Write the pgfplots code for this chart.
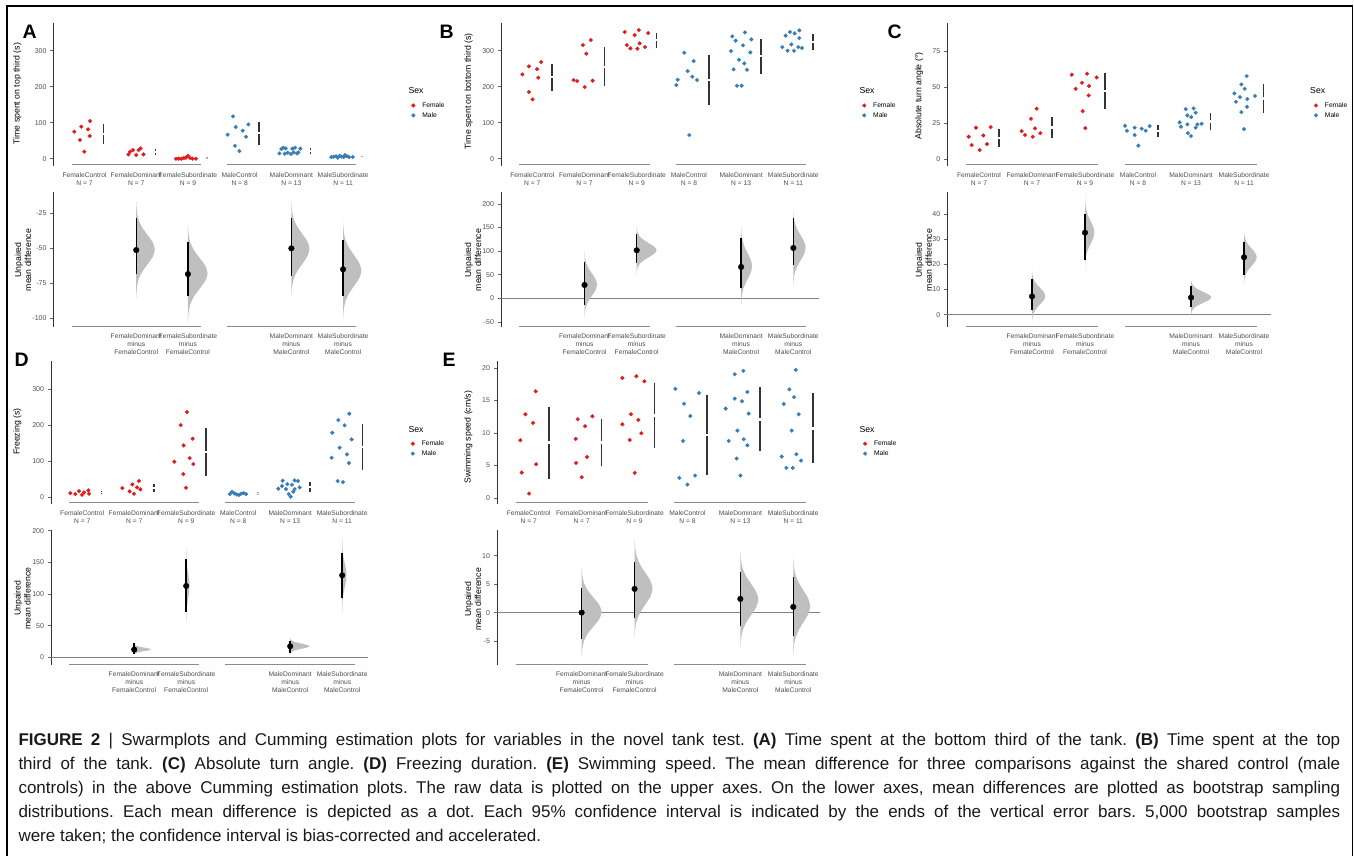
\documentclass[border=0pt]{standalone}
\usepackage{pgfplots}
\pgfplotsset{compat=1.18}
\usepackage{pgfplotstable}
\usepackage{fontspec}
\setmainfont{Liberation Sans}
\frenchspacing

\definecolor{fem}{HTML}{E41A1C}
\definecolor{mal}{HTML}{377EB8}
\definecolor{txtgray}{HTML}{4D4D4D}

\newcommand\tickfont{\fontsize{7}{8}\selectfont}
\newcommand\catfont{\fontsize{6.7}{8}\selectfont}
\newcommand\titlefont{\fontsize{8.7}{10}\selectfont}
\newcommand\letterfont{\fontsize{19.5}{20}\selectfont\bfseries}
\newcommand\capfont{\fontsize{17}{20}\selectfont}

% shape of a bootstrap distribution (t in sd units, w relative half-width)
\pgfplotstableread{
t w
-3.3 0
-3 0.011
-2.5 0.044
-2 0.135
-1.5 0.325
-1 0.607
-0.5 0.882
0 1
0.5 0.882
1 0.607
1.5 0.325
2 0.135
2.5 0.044
3 0.011
3.3 0
}\vtab

\pgfplotsset{
  base/.style={
    scale only axis, clip=false,
    xmin=-0.6, xmax=5.5,
    axis lines*=left,
    x axis line style={draw=none},
    y axis line style={black!80, line width=0.9pt},
    tick align=outside, major tick length=3.5pt,
    xtick style={draw=none},
    ytick style={black!60, line width=0.6pt},
    xticklabel style={font=\catfont, text=txtgray, align=center, anchor=north},
    yticklabel style={font=\tickfont, text=txtgray},
    unbounded coords=jump,
  },
  uppax/.style={base, height=142.4pt, xtick={0,...,5},
    xticklabels={{FemaleControl\\N = 7},{FemaleDominant\\N = 7},{FemaleSubordinate\\N = 9},{MaleControl\\N = 8},{MaleDominant\\N = 13},{MaleSubordinate\\N = 11}},
    legend cell align=left,
    legend style={draw=none, fill=none, at={(1.134,0.388)}, anchor=west,
      font=\catfont, inner sep=0pt, row sep=2.5pt,
      nodes={inner sep=0.5pt},
      /tikz/every odd column/.append style={column sep=6.5pt}},
    legend image code/.code={\draw[##1] plot coordinates {(0pt,0pt)};},
  },
  lowax/.style={base, height=134.4pt, xtick={1,2,4,5},
    xticklabels={{FemaleDominant\\minus\\FemaleControl},{FemaleSubordinate\\minus\\FemaleControl},{MaleDominant\\minus\\MaleControl},{MaleSubordinate\\minus\\MaleControl}},
  },
  fswarm/.style={only marks, mark=*, mark size=1.95pt, color=fem, mark options={draw=fem, fill=fem, line width=0.2pt}},
  mswarm/.style={only marks, mark=*, mark size=1.95pt, color=mal, mark options={draw=mal, fill=mal, line width=0.2pt}},
  gapbar/.style={black!80, line width=1.6pt, mark=none, forget plot},
  faintbar/.style={black!35, line width=1.6pt, mark=none, forget plot},
  meandot/.style={only marks, mark=*, mark size=2.8pt, black, forget plot,
    error bars/.cd, y dir=both, y explicit, error mark=none,
    error bar style={line width=1.4pt, black}},
}
\tikzset{
  brk/.style={black!45, line width=1pt},
  zeroline/.style={black!50, line width=0.9pt},
}

\newcommand\violin[4]{\addplot[fill=black!25, draw=none, forget plot, smooth]
  table[x expr={#1+#4*\thisrow{w}}, y expr={#2+#3*\thisrow{t}}] {\vtab};}
\newcommand\brk[1]{%
  \draw[brk] ({axis cs:-0.25,0}|-{rel axis cs:0,#1}) -- ({axis cs:2.25,0}|-{rel axis cs:0,#1});
  \draw[brk] ({axis cs:2.75,0}|-{rel axis cs:0,#1}) -- ({axis cs:5.25,0}|-{rel axis cs:0,#1});}
\newcommand\zero{\draw[zeroline] ({rel axis cs:0,0}|-{axis cs:0,0}) -- ({rel axis cs:1,0}|-{axis cs:0,0});}

\begin{document}
\begin{tikzpicture}[x=1pt, y=1pt]
\path[use as bounding box] (0,0) rectangle (1354,856);
\draw[line width=1.3pt] (7,0) -- (7,850) -- (1352.5,850) -- (1352.5,0);

% ---------------- A ----------------
\begin{axis}[uppax, at={(53.5pt,832.7pt)}, anchor=north west, width=315.4pt,
  ymin=-19.4, ymax=376.2, ytick={0,100,200,300}, yticklabels={0,100,200,300}]
\addplot[fswarm] table[row sep=\\] {x y\\
-0.197 75\\ -0.087 51.9\\ -0.062 88.9\\ -0.004 19.4\\ 0.068 81.5\\ 0.100 63\\ 0.106 104.6\\
0.85 12\\ 0.88 19.4\\ 0.935 24\\ 1.0 10.2\\ 1.045 24\\ 1.085 28.7\\ 1.14 12\\
1.77 0\\ 1.82 0\\ 1.87 0\\ 1.92 1.9\\ 1.96 2.8\\ 2.0 8.3\\ 2.04 1.9\\ 2.09 0\\ 2.155 0\\};
\addlegendentry{Female}
\addplot[mswarm] table[row sep=\\] {x y\\
2.872 117.6\\ 2.924 88\\ 2.769 66.7\\ 3.059 77.8\\ 3.169 95.4\\ 3.124 61\\ 2.911 36\\ 2.995 21.3\\
3.769 14.8\\ 3.807 26.9\\ 3.839 30.6\\ 3.872 13.9\\ 3.891 28.7\\ 3.93 16.7\\ 3.994 13\\ 4.02 27.8\\ 4.046 17.6\\ 4.072 30.6\\ 4.11 14.8\\ 4.136 17.6\\ 4.175 27.8\\
4.774 4.6\\ 4.819 5.6\\ 4.865 6.5\\ 4.897 2.8\\ 4.936 8.3\\ 4.974 5.6\\ 5.013 4.6\\ 5.039 10.2\\ 5.077 6.5\\ 5.116 4.6\\ 5.187 4.6\\};
\addlegendentry{Male}
\addplot[gapbar] coordinates {(0.37,40.7)(0.37,66.2)(0.37,nan)(0.37,72.2)(0.37,97.7)(0.37,nan)
 (1.37,9.6)(1.37,15.6)(1.37,nan)(1.37,21.6)(1.37,27.6)(1.37,nan)
 (3.37,39)(3.37,67.5)(3.37,nan)(3.37,73.5)(3.37,102)(3.37,nan)
 (4.37,13.2)(4.37,18.7)(4.37,nan)(4.37,24.7)(4.37,30.2)};
\addplot[faintbar] coordinates {(2.37,-1)(2.37,4.5)(2.37,nan)(5.37,3.5)(5.37,8)};
\brk{0.01}
\end{axis}

\begin{axis}[lowax, at={(53.5pt,663.7pt)}, anchor=north west, width=315.4pt,
  ymin=-106.2, ymax=-9.95, ytick={-100,-75,-50,-25}, yticklabels={-100,-75,-50,-25}]
\violin{1}{-51}{10.5}{0.36}
\violin{2}{-68}{10.8}{0.38}
\violin{4}{-50.5}{10.7}{0.35}
\violin{5}{-66}{10.9}{0.355}
\addplot[meandot] table[row sep=\\, y error plus expr=\thisrow{hi}-\thisrow{y}, y error minus expr=\thisrow{y}-\thisrow{lo}] {x y lo hi\\
1 -51.3 -68.2 -28.1\\ 2 -68.5 -84.5 -45.3\\ 4 -50.1 -69.9 -28.6\\ 5 -65.1 -84.5 -44.1\\};
\brk{0.003}
\end{axis}

% ---------------- B ----------------
\begin{axis}[uppax, at={(501pt,832.7pt)}, anchor=north west, width=318.4pt,
  ymin=-19.4, ymax=376.2, ytick={0,100,200,300}, yticklabels={0,100,200,300}]
\addplot[fswarm] table[row sep=\\] {x y\\
-0.19 234.3\\ -0.065 256.5\\ 0.09 249\\ 0.17 268.5\\ 0.115 225\\ -0.065 185.2\\ 0.005 164.8\\
0.79 218.5\\ 0.86 215.7\\ 0.97 315.7\\ 1.035 291.7\\ 1.12 329.6\\ 1.003 199.1\\ 1.155 216.7\\
1.77 351.9\\ 1.81 315.7\\ 1.88 306.5\\ 1.96 343.5\\ 2.013 305.6\\ 2.04 357.4\\ 2.057 320.4\\ 2.16 310.2\\ 2.22 349\\};
\addlegendentry{Female}
\addplot[mswarm] table[row sep=\\] {x y\\
2.91 294.4\\ 3.09 271.3\\ 2.975 243.5\\ 3.065 227.8\\ 2.785 219.4\\ 3.155 218.5\\ 2.76 204.6\\ 3.008 65.7\\
3.83 339.8\\ 4.074 350.9\\ 3.895 327.8\\ 4.195 331.5\\ 4.036 314.8\\ 3.806 299.1\\ 4.176 295.4\\ 3.959 275\\ 4.061 264.8\\ 3.857 248.1\\ 4.112 247.2\\ 3.921 202.8\\ 4.01 202.8\\
4.79 310.2\\ 4.853 341.7\\ 4.891 300\\ 4.936 351.9\\ 4.962 317.6\\ 5.026 348.1\\ 5.013 300\\ 5.096 310.2\\ 5.115 356.5\\ 5.115 335.2\\ 5.166 307.4\\};
\addlegendentry{Male}
\addplot[gapbar] coordinates {(0.38,188.2)(0.38,223.2)(0.38,nan)(0.38,229.2)(0.38,264.2)(0.38,nan)
 (1.38,201.3)(1.38,252.3)(1.38,nan)(1.38,258.3)(1.38,309.3)(1.38,nan)
 (2.38,308.4)(2.38,325.9)(2.38,nan)(2.38,331.9)(2.38,349.4)(2.38,nan)
 (3.38,149.2)(3.38,215.2)(3.38,nan)(3.38,221.2)(3.38,287.2)(3.38,nan)
 (4.38,236.6)(4.38,281.6)(4.38,nan)(4.38,287.6)(4.38,332.6)(4.38,nan)
 (5.38,303.3)(5.38,322.3)(5.38,nan)(5.38,328.3)(5.38,347.3)};
\brk{0.01}
\end{axis}

\begin{axis}[lowax, at={(501pt,663.7pt)}, anchor=north west, width=318.4pt,
  ymin=-60.2, ymax=224.6, ytick={-50,0,50,100,150,200}, yticklabels={-50,0,50,100,150,200}]
\zero
\violin{1}{29}{23}{0.24}
\violin{2}{102}{15}{0.38}
\violin{4}{68}{27}{0.21}
\violin{5}{107}{26}{0.236}
\addplot[meandot] table[row sep=\\, y error plus expr=\thisrow{hi}-\thisrow{y}, y error minus expr=\thisrow{y}-\thisrow{lo}] {x y lo hi\\
1 28.2 -14.1 76.3\\ 2 101.7 75.6 135.6\\ 4 66.4 22.6 128.5\\ 5 106.6 71.3 170.2\\};
\brk{0.003}
\end{axis}

% ---------------- C ----------------
\begin{axis}[uppax, at={(947.2pt,832.7pt)}, anchor=north west, width=323.3pt,
  ymin=-4.6, ymax=94.3, ytick={0,25,50,75}, yticklabels={0,25,50,75}]
\addplot[fswarm] table[row sep=\\] {x y\\
-0.195 15.5\\ -0.138 9.7\\ -0.057 21.8\\ 0.013 6.25\\ 0.082 16.4\\ 0.151 10.4\\ 0.22 22.2\\
0.805 19.4\\ 0.868 16.7\\ 0.981 28\\ 1.013 15.5\\ 1.057 21.3\\ 1.088 35\\ 1.157 18\\
1.75 58.6\\ 1.824 48.8\\ 1.943 53\\ 2.038 59.3\\ 2.075 50.7\\ 2.22 56.7\\ 2.069 44.2\\ 1.956 33.3\\ 2.006 21.5\\};
\addlegendentry{Female}
\addplot[mswarm] table[row sep=\\] {x y\\
2.755 23.1\\ 2.792 19.7\\ 2.937 21.8\\ 2.937 16.7\\ 3.006 9.3\\ 3.069 21.1\\ 3.145 19.7\\ 3.22 22.9\\
3.786 25.5\\ 3.811 22.5\\ 3.9 34.7\\ 3.931 30.3\\ 3.931 24.1\\ 3.94 18\\ 4.006 29.2\\ 4.0 16\\ 4.05 35.2\\ 4.088 32.2\\ 4.088 21.8\\ 4.12 24.1\\ 4.2 24.5\\
4.818 45.6\\ 4.849 39.8\\ 4.925 43\\ 4.95 51.9\\ 5.013 48.8\\ 5.05 57.6\\ 5.063 41.7\\ 5.057 36.3\\ 4.95 32.6\\ 5.0 20.8\\ 5.208 43.8\\};
\addlegendentry{Male}
\addplot[gapbar] coordinates {(0.375,8.5)(0.375,13.8)(0.375,nan)(0.375,15.4)(0.375,20.7)(0.375,nan)
 (1.38,14.8)(1.38,21.2)(1.38,nan)(1.38,22.8)(1.38,29.2)(1.38,nan)
 (2.375,34.6)(2.375,46.5)(2.375,nan)(2.375,48.1)(2.375,60)(2.375,nan)
 (3.375,15)(3.375,18.5)(3.375,nan)(3.375,20.1)(3.375,23.6)(3.375,nan)
 (4.37,20.1)(4.37,25.2)(4.37,nan)(4.37,26.8)(4.37,31.9)(4.37,nan)
 (5.365,32.1)(5.365,41.2)(5.365,nan)(5.365,42.8)(5.365,51.9)};
\brk{0.01}
\end{axis}

\begin{axis}[lowax, at={(947.2pt,663.7pt)}, anchor=north west, width=323.3pt,
  ymin=-4.8, ymax=48.8, ytick={0,10,20,30,40}, yticklabels={0,10,20,30,40}]
\zero
\violin{1}{7.4}{3.3}{0.25}
\violin{2}{32.8}{4.5}{0.176}
\violin{4}{6.9}{2.2}{0.38}
\violin{5}{22.9}{3.4}{0.24}
\addplot[meandot] table[row sep=\\, y error plus expr=\thisrow{hi}-\thisrow{y}, y error minus expr=\thisrow{y}-\thisrow{lo}] {x y lo hi\\
1 7.3 1.7 14.2\\ 2 32.7 21.9 40.2\\ 4 6.8 3.1 11.6\\ 5 22.9 15.8 28.9\\};
\brk{0.003}
\end{axis}

% ---------------- D ----------------
\begin{axis}[uppax, at={(51pt,494.5pt)}, anchor=north west, width=317.2pt,
  ymin=-18, ymax=377.5, ytick={0,100,200,300}, yticklabels={0,100,200,300}]
\addplot[fswarm] table[row sep=\\] {x y\\
-0.228 12\\ -0.132 9.3\\ -0.062 17.6\\ -0.004 7.4\\ 0.035 13.9\\ 0.118 19.4\\ 0.131 10.2\\
0.772 25.9\\ 0.913 16.7\\ 0.964 36.1\\ 0.996 10.2\\ 1.054 27.8\\ 1.092 45.4\\ 1.118 22.2\\
1.772 99.1\\ 1.894 200.9\\ 1.945 64.8\\ 1.951 144.4\\ 1.996 26.9\\ 2.015 237\\ 2.067 109.3\\ 2.124 163\\ 2.137 92.6\\};
\addlegendentry{Female}
\addplot[mswarm] table[row sep=\\] {x y\\
2.84 9.3\\ 2.88 15.7\\ 2.925 11.1\\ 2.97 8.3\\ 3.01 6.5\\ 3.055 10.2\\ 3.1 12\\ 3.15 9.3\\
3.772 24.1\\ 3.842 31.5\\ 3.855 46.3\\ 3.919 23.1\\ 3.945 37\\ 3.971 9.3\\ 4.009 1.9\\ 4.035 35.2\\ 4.06 15.7\\ 4.086 47.2\\ 4.086 23.1\\ 4.15 45.4\\ 4.182 27.8\\
4.797 110.2\\ 4.81 179.6\\ 4.913 45.4\\ 4.926 214.8\\ 4.951 138\\ 5.015 42.6\\ 5.047 200\\ 5.092 119.4\\ 5.131 95.4\\ 5.137 232.4\\ 5.182 161.1\\};
\addlegendentry{Male}
\addplot[gapbar] coordinates {(0.37,8.3)(0.37,11.3)(0.37,nan)(0.37,14.3)(0.37,17.3)(0.37,nan)
 (1.38,14.7)(1.38,23.3)(1.38,nan)(1.38,29.3)(1.38,37.9)(1.38,nan)
 (2.38,59.7)(2.38,123.4)(2.38,nan)(2.38,129.4)(2.38,193.1)(2.38,nan)
 (4.38,14.9)(4.38,25.3)(4.38,nan)(4.38,31.3)(4.38,41.7)(4.38,nan)
 (5.39,76.4)(5.39,136.9)(5.39,nan)(5.39,142.9)(5.39,203.4)};
\addplot[faintbar] coordinates {(3.38,7.2)(3.38,9.1)(3.38,nan)(3.38,12.1)(3.38,14)};
\brk{0.01}
\end{axis}

\begin{axis}[lowax, at={(51pt,326pt)}, anchor=north west, width=317.2pt, height=135pt,
  ymin=-12.2, ymax=201, ytick={0,50,100,150,200}, yticklabels={0,50,100,150,200}]
\zero
\violin{1}{12.5}{2.7}{0.32}
\violin{2}{113}{19}{0.064}
\violin{4}{17.5}{4}{0.37}
\violin{5}{129.5}{18.7}{0.083}
\addplot[meandot] table[row sep=\\, y error plus expr=\thisrow{hi}-\thisrow{y}, y error minus expr=\thisrow{y}-\thisrow{lo}] {x y lo hi\\
1 12.1 4.7 22\\ 2 112.6 72.1 155.3\\ 4 17.4 6.3 25.8\\ 5 129.5 94.2 164.7\\};
\brk{0}
\end{axis}

% ---------------- E ----------------
\begin{axis}[uppax, at={(497pt,494.5pt)}, anchor=north west, width=322.7pt,
  ymin=-0.92, ymax=20.99, ytick={0,5,10,15,20}, yticklabels={0,5,10,15,20}]
\addplot[fswarm] table[row sep=\\] {x y\\
-0.158 8.87\\ -0.063 12.87\\ 0.132 16.4\\ 0.082 11.54\\ -0.132 3.9\\ 0.139 5.18\\ 0.006 0.67\\
0.926 12.1\\ 1.064 11.03\\ 1.203 12.56\\ 0.888 9.08\\ 1.102 6.3\\ 0.894 5.38\\ 1.001 3.18\\
1.77 18.46\\ 2.035 18.72\\ 2.186 17.95\\ 1.934 12.87\\ 2.072 12\\ 1.77 11.33\\ 2.129 9.95\\ 1.909 8.92\\ 2.003 3.85\\};
\addlegendentry{Female}
\addplot[mswarm] table[row sep=\\] {x y\\
2.772 16.77\\ 3.219 16.15\\ 2.936 14.5\\ 3.055 12.6\\ 2.917 8.77\\ 3.144 3.44\\ 2.848 3.08\\ 2.999 2.05\\
3.894 19.03\\ 4.057 19.54\\ 3.723 13.74\\ 3.894 15.28\\ 4.032 14.87\\ 4.133 16.3\\ 4.158 12.97\\ 3.944 10.36\\ 3.78 8.77\\ 4.064 9.03\\ 4.133 8.1\\ 3.931 6.05\\ 4.001 3.44\\
5.047 19.7\\ 4.927 16.7\\ 5.015 15.5\\ 4.82 14.46\\ 5.103 12.87\\ 4.971 10.36\\ 5.059 6.72\\ 4.782 6.36\\ 5.147 5.74\\ 4.87 4.62\\ 4.99 4.62\\};
\addlegendentry{Male}
\addplot[gapbar] coordinates {(0.378,2.94)(0.378,8.29)(0.378,nan)(0.378,8.69)(0.378,14.04)(0.378,nan)
 (1.373,4.86)(1.373,8.32)(1.373,nan)(1.373,8.72)(1.373,12.18)(1.373,nan)
 (2.375,7.64)(2.375,12.47)(2.375,nan)(2.375,12.87)(2.375,17.7)(2.375,nan)
 (3.373,3.47)(3.373,9.47)(3.373,nan)(3.373,9.87)(3.373,15.87)(3.373,nan)
 (4.373,7.18)(4.373,11.91)(4.373,nan)(4.373,12.31)(4.373,17.04)(4.373,nan)
 (5.369,5.3)(5.369,10.5)(5.369,nan)(5.369,10.9)(5.369,16.1)};
\brk{0.01}
\end{axis}

\begin{axis}[lowax, at={(497pt,326pt)}, anchor=north west, width=322.7pt, height=135pt,
  ymin=-9.2, ymax=14.5, ytick={-5,0,5,10}, yticklabels={-5,0,5,10}]
\zero
\violin{1}{0.1}{2.47}{0.378}
\violin{2}{4.2}{2.76}{0.34}
\violin{4}{2.3}{2.7}{0.34}
\violin{5}{1.1}{2.77}{0.32}
\addplot[meandot] table[row sep=\\, y error plus expr=\thisrow{hi}-\thisrow{y}, y error minus expr=\thisrow{y}-\thisrow{lo}] {x y lo hi\\
1 0 -4.57 4.34\\ 2 4.16 -0.88 8.85\\ 4 2.4 -2.28 7.2\\ 5 1.0 -4.1 6.2\\};
\brk{0.003}
\end{axis}

% axis titles
\begin{scope}[every node/.style={font=\titlefont, rotate=90, align=center}]
\node at (17.3,856-93.7) {Time spent on top third (s)};
\node at (23,856-260) {Unpaired\\mean difference};
\node at (468.7,856-91.3) {Time spent on bottom third (s)};
\node at (473,856-260) {Unpaired\\mean difference};
\node at (919.2,856-95.8) {Absolute turn angle (°)};
\node at (923.8,856-260) {Unpaired\\mean difference};
\node at (17.5,856-431.7) {Freezing (s)};
\node at (22.5,856-598.3) {Unpaired\\mean difference};
\node at (468.3,856-437.2) {Swimming speed (cm/s)};
\node at (473,856-599.2) {Unpaired\\mean difference};
\end{scope}

% legend titles
\begin{scope}[every node/.style={font=\titlefont, anchor=west, inner sep=0pt}]
\node at (408.3,856-91) {Sex};
\node at (859.3,856-91) {Sex};
\node at (1310,856-91) {Sex};
\node at (408.3,856-429.3) {Sex};
\node at (859.3,856-429.3) {Sex};
\end{scope}

% panel letters
\begin{scope}[every node/.style={font=\letterfont, anchor=base west, inner sep=0pt}]
\node at (22.5,856-39) {A};
\node at (439.5,856-39) {B};
\node at (887.5,856-39) {C};
\node at (14.5,856-366.7) {D};
\node at (442.5,856-367) {E};
\end{scope}

% caption
\begin{scope}[every node/.style={font=\capfont, anchor=base west, inner sep=0pt, text=black!90}]
\node at (18.3,856-746) {\makebox[1321.7pt][s]{\textbf{FIGURE 2} | Swarmplots and Cumming estimation plots for variables in the novel tank test. \textbf{(A)} Time spent at the bottom third of the tank. \textbf{(B)} Time spent at the top}};
\node at (18.3,856-769.9) {\makebox[1321.7pt][s]{third of the tank. \textbf{(C)} Absolute turn angle. \textbf{(D)} Freezing duration. \textbf{(E)} Swimming speed. The mean difference for three comparisons against the shared control (male}};
\node at (18.3,856-793.8) {\makebox[1321.7pt][s]{controls) in the above Cumming estimation plots. The raw data is plotted on the upper axes. On the lower axes, mean differences are plotted as bootstrap sampling}};
\node at (18.3,856-817.7) {\makebox[1321.7pt][s]{distributions. Each mean difference is depicted as a dot. Each 95\% confidence interval is indicated by the ends of the vertical error bars. 5,000 bootstrap samples}};
\node at (18.3,856-841.6) {were taken; the confidence interval is bias-corrected and accelerated.};
\end{scope}
\end{tikzpicture}
\end{document}
